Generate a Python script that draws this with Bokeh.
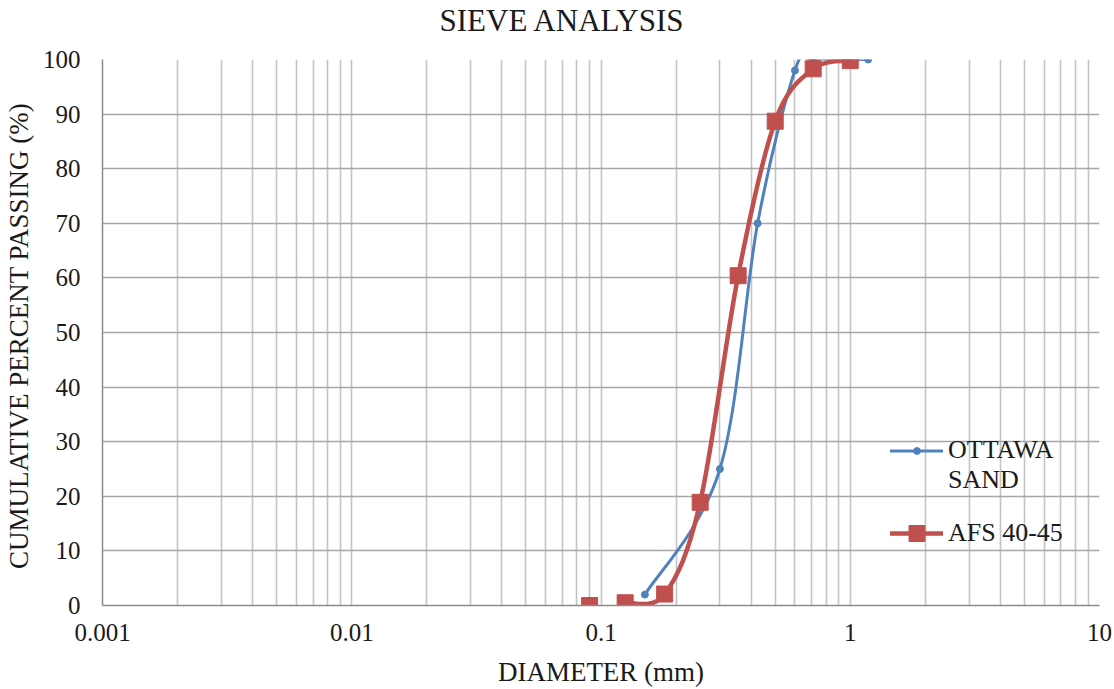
import numpy as np
from bokeh.plotting import figure
from bokeh.models import FixedTicker, Legend, LegendItem, ColumnDataSource, Title
from bokeh.embed import file_html
from bokeh.resources import INLINE

# ---------------- data ----------------
ottawa_d = [0.15, 0.3, 0.425, 0.6, 0.71, 1.18]
ottawa_p = [2.0, 25.0, 70.0, 98.0, 100.0, 100.0]

afs_d = [0.09, 0.125, 0.18, 0.25, 0.355, 0.5, 0.71, 1.0]
afs_p = [0.0, 0.5, 2.1, 18.9, 60.4, 88.7, 98.3, 99.8]
afs_line_from = 1  # first point is not joined to the curve

x_major = [0.001, 0.01, 0.1, 1, 10]
x_tick_labels = ["0.001", "0.01", "0.1", "1", "10"]
x_minor = [m * 10.0 ** e for e in range(-3, 1) for m in range(2, 10)]
y_ticks = list(range(0, 101, 10))

TITLE = "SIEVE ANALYSIS"
BLUE = "#4F81BD"
RED = "#C0504D"
FONT = "Liberation Serif"
TXT = "#1a1a1a"


def smooth_source(xs, ys):
    """Catmull-Rom style smoothing (as in spreadsheet 'smoothed line') -> bezier segments."""
    P = np.column_stack([np.log10(np.asarray(xs, float)), np.asarray(ys, float)])
    ext = np.vstack([P[0], P, P[-1]])
    d = dict(x0=[], y0=[], x1=[], y1=[], cx0=[], cy0=[], cx1=[], cy1=[])
    for i in range(len(P) - 1):
        p0, p1, p2, p3 = ext[i], ext[i + 1], ext[i + 2], ext[i + 3]
        c0 = p1 + (p2 - p0) / 6.0
        c1 = p2 - (p3 - p1) / 6.0
        d["x0"].append(10 ** p1[0]); d["y0"].append(p1[1])
        d["x1"].append(10 ** p2[0]); d["y1"].append(p2[1])
        d["cx0"].append(10 ** c0[0]); d["cy0"].append(c0[1])
        d["cx1"].append(10 ** c1[0]); d["cy1"].append(c1[1])
    return ColumnDataSource(d)


p = figure(width=1114, height=689, x_axis_type="log",
           x_range=(0.001, 10), y_range=(0, 100),
           output_backend="svg", toolbar_location=None,
           min_border_left=101, min_border_right=15,
           min_border_top=59, min_border_bottom=84)

p.outline_line_color = None
p.background_fill_color = "white"
p.border_fill_color = "white"

# title: an empty spacer panel next to the plot area, the real title above it
p.title.text = ""
p.add_layout(Title(text=" ", text_font_size="10px", standoff=7), "above")
p.add_layout(Title(text=TITLE, align="left", offset=337, vertical_align="top",
                   standoff=0, text_font=FONT, text_font_size="31px",
                   text_font_style="normal", text_color=TXT), "above")

# axes
p.xaxis.ticker = FixedTicker(ticks=x_major, minor_ticks=x_minor)
p.xaxis.major_label_overrides = {t: l for t, l in zip(x_major, x_tick_labels)}
p.yaxis.ticker = FixedTicker(ticks=y_ticks)
for ax in (p.xaxis[0], p.yaxis[0]):
    ax.major_tick_line_color = None
    ax.minor_tick_line_color = None
    ax.major_tick_out = 0
    ax.major_tick_in = 0
    ax.minor_tick_out = 0
    ax.minor_tick_in = 0
    ax.axis_line_color = "#8c8c8c"
    ax.axis_line_width = 1.5
    ax.major_label_text_font = FONT
    ax.major_label_text_font_size = "25px"
    ax.major_label_text_color = TXT
    ax.axis_label_text_font = FONT
    ax.axis_label_text_font_style = "normal"
    ax.axis_label_text_color = TXT

p.xaxis.axis_label = "DIAMETER (mm)"
p.xaxis.axis_label_text_font_size = "27px"
p.xaxis.major_label_standoff = 18
p.xaxis.axis_label_standoff = 13
p.yaxis.axis_label = "CUMULATIVE  PERCENT PASSING (%)"
p.yaxis.axis_label_text_font_size = "27px"
p.yaxis.major_label_standoff = 22
p.yaxis.axis_label_standoff = 6

# grids
p.ygrid.grid_line_color = "#a6a6a6"
p.ygrid.grid_line_width = 1.5
p.xgrid.grid_line_color = "#c4c4c4"
p.xgrid.grid_line_width = 1.6
p.xgrid.minor_grid_line_color = "#c4c4c4"
p.xgrid.minor_grid_line_width = 1.6

# series
blue_curve = p.bezier(x0="x0", y0="y0", x1="x1", y1="y1", cx0="cx0", cy0="cy0",
                      cx1="cx1", cy1="cy1", source=smooth_source(ottawa_d, ottawa_p),
                      line_color=BLUE, line_width=3, line_cap="round")
blue_pts = p.scatter(ottawa_d, ottawa_p, marker="circle", size=7,
                     fill_color=BLUE, line_color=BLUE)

red_curve = p.bezier(x0="x0", y0="y0", x1="x1", y1="y1", cx0="cx0", cy0="cy0",
                     cx1="cx1", cy1="cy1",
                     source=smooth_source(afs_d[afs_line_from:], afs_p[afs_line_from:]),
                     line_color=RED, line_width=4.5, line_cap="round")
red_pts = p.scatter(afs_d, afs_p, marker="square", size=16,
                    fill_color=RED, line_color=RED)

dummy = p.line(x=[], y=[], line_alpha=0)

leg1 = Legend(items=[LegendItem(label="OTTAWA", renderers=[blue_curve, blue_pts]),
                     LegendItem(label="SAND", renderers=[dummy])],
              location=(788, 110), orientation="vertical",
              glyph_width=53, glyph_height=17, label_height=29, label_standoff=5,
              spacing=0, padding=0, margin=0,
              label_text_font=FONT, label_text_font_size="26px", label_text_color=TXT,
              background_fill_alpha=0, border_line_alpha=0)
leg2 = Legend(items=[LegendItem(label="AFS 40-45", renderers=[red_curve, red_pts])],
              location=(788, 52), orientation="vertical",
              glyph_width=53, glyph_height=40, label_height=40, label_standoff=5,
              spacing=0, padding=0, margin=0,
              label_text_font=FONT, label_text_font_size="26px", label_text_color=TXT,
              background_fill_alpha=0, border_line_alpha=0)
p.add_layout(leg1)
p.add_layout(leg2)

open("out.html", "w").write(file_html(p, INLINE))
